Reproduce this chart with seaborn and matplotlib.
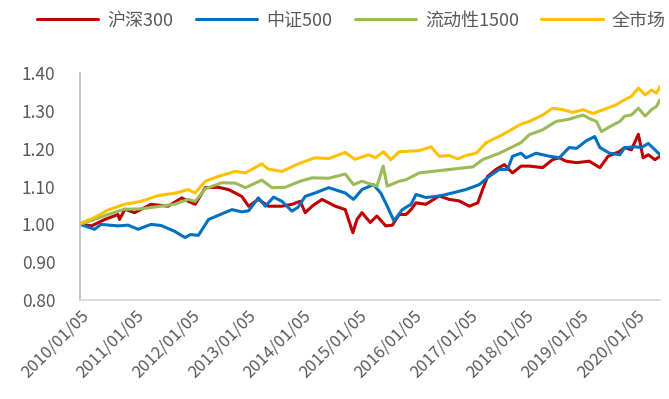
import matplotlib
matplotlib.use('Agg')
from matplotlib import pyplot as plt
import matplotlib.dates as mdates
import pandas as pd
import seaborn as sns

# 沪深300
hs300_dates = ['2010-01-05', '2010-03-20', '2010-06-15', '2010-09-10', '2010-09-20', '2010-10-25',
               '2010-12-28', '2011-04-15', '2011-08-05', '2011-11-03', '2011-12-15', '2012-01-30',
               '2012-04-05', '2012-07-01', '2012-09-05', '2012-12-01', '2013-01-15', '2013-03-20',
               '2013-05-25', '2013-08-22', '2013-10-27', '2013-12-20', '2014-01-22', '2014-03-08',
               '2014-05-12', '2014-08-08', '2014-10-12', '2014-12-01', '2014-12-28', '2015-01-30',
               '2015-03-25', '2015-05-08', '2015-07-05', '2015-08-18', '2015-10-01', '2015-11-15',
               '2015-12-18', '2016-01-20', '2016-03-25', '2016-06-20', '2016-08-25', '2016-10-30',
               '2017-01-05', '2017-03-01', '2017-04-01', '2017-05-05', '2017-06-28', '2017-08-22',
               '2017-10-15', '2017-12-10', '2018-02-02', '2018-05-01', '2018-07-05', '2018-08-18',
               '2018-10-01', '2018-12-10', '2019-03-03', '2019-05-12', '2019-07-05', '2019-09-20',
               '2019-10-22', '2019-12-05', '2020-01-20', '2020-02-20', '2020-03-25', '2020-05-08',
               '2020-06-10']
hs300 = [1.000, 0.996, 1.013, 1.026, 1.013, 1.040,
         1.031, 1.053, 1.048, 1.070, 1.061, 1.053,
         1.097, 1.098, 1.092, 1.074, 1.048, 1.066,
         1.048, 1.048, 1.053, 1.061, 1.031, 1.048,
         1.066, 1.048, 1.039, 0.978, 1.013, 1.031,
         1.005, 1.022, 0.996, 0.998, 1.026, 1.026,
         1.039, 1.057, 1.053, 1.075, 1.066, 1.062,
         1.048, 1.057, 1.092, 1.127, 1.145, 1.158,
         1.136, 1.154, 1.154, 1.150, 1.171, 1.176,
         1.167, 1.163, 1.167, 1.150, 1.180, 1.193,
         1.203, 1.197, 1.238, 1.176, 1.184, 1.171,
         1.180]

# 中证500
zz500_dates = ['2010-01-05', '2010-04-08', '2010-05-22', '2010-09-10', '2010-11-15', '2011-01-20',
               '2011-04-15', '2011-06-20', '2011-09-15', '2011-11-25', '2011-12-28', '2012-02-20',
               '2012-04-27', '2012-07-01', '2012-09-28', '2012-12-01', '2013-01-15', '2013-03-20',
               '2013-05-05', '2013-06-28', '2013-08-22', '2013-10-27', '2013-12-05', '2014-01-22',
               '2014-03-28', '2014-06-25', '2014-10-12', '2014-12-05', '2015-01-30', '2015-04-15',
               '2015-06-02', '2015-07-15', '2015-08-28', '2015-10-22', '2015-12-18', '2016-01-20',
               '2016-03-25', '2016-06-20', '2016-09-15', '2016-12-12', '2017-03-10', '2017-05-15',
               '2017-07-20', '2017-09-12', '2017-10-15', '2017-12-10', '2018-01-12', '2018-03-18',
               '2018-06-15', '2018-08-18', '2018-10-22', '2018-12-10', '2019-02-12', '2019-04-08',
               '2019-05-12', '2019-07-15', '2019-09-20', '2019-10-22', '2019-12-28', '2020-02-10',
               '2020-03-25', '2020-05-08', '2020-06-10']
zz500 = [1.000, 0.987, 1.000, 0.996, 0.998, 0.987,
         1.000, 0.997, 0.982, 0.965, 0.973, 0.971,
         1.013, 1.024, 1.039, 1.033, 1.036, 1.070,
         1.048, 1.072, 1.061, 1.035, 1.045, 1.074,
         1.083, 1.097, 1.083, 1.066, 1.092, 1.105,
         1.083, 1.048, 1.009, 1.039, 1.053, 1.079,
         1.071, 1.075, 1.083, 1.092, 1.105, 1.127,
         1.145, 1.145, 1.180, 1.188, 1.176, 1.188,
         1.180, 1.176, 1.203, 1.201, 1.221, 1.232,
         1.203, 1.188, 1.184, 1.203, 1.205, 1.203,
         1.214, 1.197, 1.184]

# 流动性1500
ld1500_dates = ['2010-01-05', '2010-07-05', '2010-10-22', '2011-02-10', '2011-05-30', '2011-09-15',
                '2011-12-15', '2012-01-30', '2012-04-05', '2012-07-22', '2012-10-20', '2012-12-25',
                '2013-04-12', '2013-06-18', '2013-09-12', '2013-12-20', '2014-03-08', '2014-06-25',
                '2014-10-12', '2014-12-05', '2015-01-30', '2015-05-08', '2015-06-18', '2015-07-15',
                '2015-10-01', '2015-11-15', '2016-02-10', '2016-05-08', '2016-10-08', '2017-01-28',
                '2017-04-01', '2017-07-20', '2017-09-25', '2017-12-10', '2018-02-02', '2018-05-01',
                '2018-07-28', '2018-10-22', '2019-01-22', '2019-03-03', '2019-04-20', '2019-05-22',
                '2019-07-15', '2019-09-20', '2019-10-22', '2019-12-05', '2020-01-20', '2020-03-05',
                '2020-04-15', '2020-05-18', '2020-06-10']
ld1500 = [1.000, 1.026, 1.040, 1.041, 1.047, 1.053,
          1.066, 1.061, 1.094, 1.110, 1.109, 1.097,
          1.117, 1.097, 1.098, 1.114, 1.123, 1.122,
          1.133, 1.105, 1.114, 1.101, 1.154, 1.101,
          1.114, 1.118, 1.136, 1.140, 1.147, 1.152,
          1.171, 1.188, 1.201, 1.216, 1.237, 1.250,
          1.272, 1.278, 1.289, 1.280, 1.272, 1.245,
          1.258, 1.272, 1.286, 1.289, 1.307, 1.286,
          1.303, 1.312, 1.329]

# 全市场
all_dates = ['2010-01-05', '2010-04-08', '2010-07-05', '2010-10-22', '2011-02-10', '2011-05-30',
             '2011-09-15', '2011-12-15', '2012-01-30', '2012-04-05', '2012-07-01', '2012-10-20',
             '2012-12-25', '2013-04-12', '2013-05-25', '2013-08-22', '2013-12-20', '2014-03-28',
             '2014-06-25', '2014-10-12', '2014-12-15', '2015-03-15', '2015-04-28', '2015-06-20',
             '2015-08-08', '2015-10-01', '2016-02-10', '2016-04-28', '2016-06-20', '2016-08-25',
             '2016-10-20', '2016-12-12', '2017-02-18', '2017-04-25', '2017-08-10', '2017-10-15',
             '2017-12-10', '2018-02-02', '2018-05-01', '2018-07-05', '2018-09-10', '2018-11-15',
             '2019-01-22', '2019-03-28', '2019-06-02', '2019-08-28', '2019-10-01', '2019-12-05',
             '2020-01-20', '2020-03-05', '2020-04-15', '2020-05-18', '2020-06-10']
all_mkt = [1.003, 1.018, 1.038, 1.053, 1.061, 1.076,
           1.082, 1.092, 1.083, 1.114, 1.127, 1.140,
           1.136, 1.160, 1.146, 1.140, 1.162, 1.176,
           1.174, 1.190, 1.172, 1.184, 1.176, 1.192,
           1.171, 1.192, 1.195, 1.205, 1.180, 1.182,
           1.173, 1.182, 1.188, 1.216, 1.237, 1.252,
           1.265, 1.272, 1.289, 1.307, 1.303, 1.296,
           1.303, 1.293, 1.303, 1.316, 1.325, 1.338,
           1.360, 1.342, 1.355, 1.347, 1.364]

names = ['沪深300', '中证500', '流动性1500', '全市场']
colors = ['#C00000', '#0070C0', '#9BBB59', '#FFC000']

frames = []
for name, d, v in zip(names, [hs300_dates, zz500_dates, ld1500_dates, all_dates],
                      [hs300, zz500, ld1500, all_mkt]):
    frames.append(pd.DataFrame({'date': pd.to_datetime(d), 'value': v, 'series': name}))
df = pd.concat(frames, ignore_index=True)

sns.set_style('white')
plt.rcParams['font.family'] = ['Noto Sans CJK SC', 'DejaVu Sans']

fig = plt.figure(figsize=(6.69, 3.99), dpi=100)
ax = fig.add_axes([0.12, 0.248, 0.867, 0.569])

sns.lineplot(data=df, x='date', y='value', hue='series', hue_order=names,
             palette=colors, linewidth=2.2, ax=ax)

ax.set_ylim(0.8, 1.4)
ax.set_yticks([0.8, 0.9, 1.0, 1.1, 1.2, 1.3, 1.4])
ax.yaxis.set_major_formatter(matplotlib.ticker.FormatStrFormatter('%.2f'))
ax.set_xlim(pd.Timestamp('2010-01-05'), pd.Timestamp('2020-06-12'))
ax.set_xticks([pd.Timestamp(f'{y}-01-05') for y in range(2010, 2021)])
ax.xaxis.set_major_formatter(mdates.DateFormatter('%Y/%m/%d'))
ax.set_xlabel('')
ax.set_ylabel('')

for s in ['top', 'right']:
    ax.spines[s].set_visible(False)
ax.spines['left'].set_color('#BFBFBF')
ax.spines['left'].set_linewidth(1.3)
ax.spines['bottom'].set_color('#D9D9D9')
ax.spines['bottom'].set_linewidth(1.3)
ax.tick_params(axis='y', length=6, width=1.2, color='#BFBFBF', labelsize=12.5,
               labelcolor='#595959', pad=12)
ax.tick_params(axis='x', length=4, width=1.2, color='#D9D9D9', labelsize=12,
               labelcolor='#595959', pad=1)
for lab in ax.get_xticklabels():
    lab.set_rotation(45)
    lab.set_ha('right')
    lab.set_va('top')
    lab.set_rotation_mode('anchor')

ax.legend(loc='upper center', bbox_to_anchor=(0.525, 1.012), bbox_transform=fig.transFigure,
          ncol=4, frameon=False, fontsize=13, handlelength=3.4, columnspacing=1.25,
          handletextpad=0.5, labelcolor='#595959')

fig.savefig('out.png', dpi=100)
